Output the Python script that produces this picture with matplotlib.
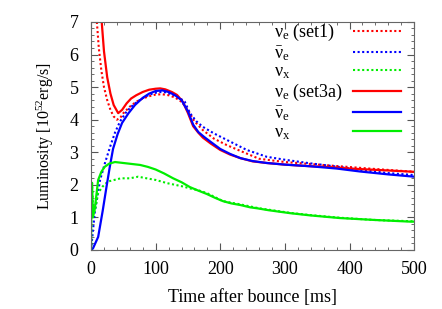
import numpy as np
import matplotlib
matplotlib.use('Agg')
import matplotlib.pyplot as plt
from matplotlib.ticker import MultipleLocator

plt.rcParams['font.family'] = ['Liberation Serif', 'DejaVu Serif']
plt.rcParams['mathtext.fontset'] = 'custom'
plt.rcParams['mathtext.rm'] = 'Liberation Serif'
plt.rcParams['mathtext.it'] = 'Liberation Serif:italic'

# nu_e, set1 (dotted red)
t_e1 = [4, 9, 12, 16, 20, 25, 30, 35, 40, 45, 50, 60, 70, 80, 90, 100, 110,
        120, 130, 140, 150, 160, 173, 190, 210, 230, 260, 300, 365, 430, 500]
L_e1 = [9.5, 7.0, 6.2, 5.5, 5.0, 4.6, 4.3, 4.1, 4.0, 4.05, 4.2, 4.4, 4.55,
        4.65, 4.72, 4.77, 4.78, 4.75, 4.68, 4.55, 4.3, 3.95, 3.68, 3.42,
        3.22, 3.05, 2.8, 2.7, 2.6, 2.5, 2.4]

# anti nu_e, set1 (dotted blue)
t_ae1 = [0, 1, 6, 14, 22, 30, 37, 45, 55, 65, 75, 85, 95, 105, 115, 125, 135,
         145, 153, 163, 173, 190, 210, 241, 272, 300, 339, 380, 416, 460, 500]
L_ae1 = [0, 0.2, 1.2, 2.15, 2.7, 3.2, 3.6, 3.95, 4.25, 4.45, 4.6, 4.72, 4.8,
         4.85, 4.84, 4.78, 4.7, 4.55, 4.2, 3.95, 3.78, 3.58, 3.38, 3.07,
         2.86, 2.77, 2.66, 2.56, 2.46, 2.36, 2.3]

# nu_x, set1 (dotted green)
t_x1 = [0, 0.5, 1.5, 3, 6, 11, 18, 26, 36, 46, 60, 73, 86, 100, 118, 142,
        155, 165, 180, 204, 231, 260, 308, 340, 385, 440, 500]
L_x1 = [0, 1.5, 2.1, 1.3, 1.2, 1.75, 1.95, 2.1, 2.15, 2.2, 2.2, 2.25, 2.2,
        2.15, 2.05, 1.95, 1.88, 1.84, 1.74, 1.5, 1.4, 1.28, 1.14, 1.07,
        0.99, 0.92, 0.88]

# nu_e, set3a (solid red)
t_e3 = [8, 12, 16.5, 20, 25, 30, 35, 42, 48, 55, 62, 70, 80, 90, 100, 107,
        115, 125, 133, 142, 150, 158, 166, 173, 185, 200, 215, 231, 250, 272,
        300, 340, 365, 400, 450, 500]
L_e3 = [11, 9, 7.0, 6.1, 5.3, 4.8, 4.45, 4.2, 4.3, 4.5, 4.65, 4.75, 4.85,
        4.92, 4.95, 4.96, 4.93, 4.85, 4.76, 4.55, 4.2, 3.8, 3.6, 3.45, 3.27,
        3.07, 2.93, 2.82, 2.72, 2.67, 2.62, 2.57, 2.55, 2.5, 2.45, 2.4]

# anti nu_e, set3a (solid blue)
t_ae3 = [0, 3, 11, 18, 24, 29, 34, 41, 48, 58, 68, 80, 90, 100, 110, 120,
         130, 140, 150, 158, 166, 175, 185, 200, 215, 231, 250, 272, 300, 339,
         380, 416, 460, 500]
L_ae3 = [0, 0.05, 0.4, 1.2, 1.95, 2.55, 3.1, 3.55, 3.9, 4.2, 4.45, 4.67, 4.8,
         4.88, 4.9, 4.85, 4.75, 4.6, 4.25, 3.85, 3.62, 3.47, 3.32, 3.1, 2.95,
         2.82, 2.73, 2.67, 2.62, 2.57, 2.5, 2.41, 2.32, 2.25]

# nu_x, set3a (solid green)
t_x3 = [0, 0.5, 1.5, 3, 6, 11, 16, 21, 28, 37, 50, 63, 76, 88, 100, 113, 127,
        140, 153, 165, 179, 192, 204, 217, 231, 246, 257, 275, 308, 340, 385,
        440, 494, 500]
L_x3 = [0, 1.8, 2.05, 1.0, 1.3, 2.15, 2.4, 2.55, 2.65, 2.7, 2.67, 2.64, 2.61,
        2.55, 2.47, 2.35, 2.2, 2.08, 1.93, 1.83, 1.72, 1.6, 1.5, 1.43, 1.38,
        1.31, 1.28, 1.22, 1.13, 1.06, 0.98, 0.92, 0.87, 0.87]

red = '#ff0000'
blue = '#0000ff'
green = '#00ee00'
dot = (0, (1, 1.2))
fs = 13

fig = plt.figure(figsize=(4.42, 3.09), dpi=100)
ax = fig.add_axes([0.206, 0.191, 0.731, 0.738])

ax.plot(t_e1, L_e1, color=red, lw=1.5, ls=dot, label=r'$\mathrm{\nu}_\mathrm{e}$ (set1)')
ax.plot(t_ae1, L_ae1, color=blue, lw=1.5, ls=dot, label=r'$\bar{\mathrm{\nu}}_\mathrm{e}$')
ax.plot(t_x1, L_x1, color=green, lw=1.5, ls=dot, label=r'$\mathrm{\nu}_\mathrm{x}$')
ax.plot(t_e3, L_e3, color=red, lw=1.6, label=r'$\mathrm{\nu}_\mathrm{e}$ (set3a)')
ax.plot(t_ae3, L_ae3, color=blue, lw=1.6, label=r'$\bar{\mathrm{\nu}}_\mathrm{e}$')
ax.plot(t_x3, L_x3, color=green, lw=1.6, label=r'$\mathrm{\nu}_\mathrm{x}$')

ax.set_xlim(0, 500)
ax.set_ylim(0, 7)
ax.xaxis.set_major_locator(MultipleLocator(100))
ax.xaxis.set_minor_locator(MultipleLocator(20))
ax.yaxis.set_major_locator(MultipleLocator(1))
ax.yaxis.set_minor_locator(MultipleLocator(0.2))
ax.tick_params(which='both', direction='in', top=True, right=True,
               labelsize=fs, color='#555555')
ax.tick_params(axis='x', which='major', pad=8)
ax.tick_params(axis='y', which='major', pad=9)
ax.tick_params(which='major', length=5)
ax.tick_params(which='minor', length=2.5)
for s in ax.spines.values():
    s.set_color('#666666')

ax.set_xlabel('Time after bounce [ms]', fontsize=fs, labelpad=8)
ax.set_ylabel(r'Luminosity [10$^{52}$erg/s]', fontsize=11.5, labelpad=10)

leg = ax.legend(loc='upper right', bbox_to_anchor=(0.999, 1.055), frameon=False,
                markerfirst=False, fontsize=fs, handlelength=2.65,
                handletextpad=0.35, labelspacing=0.05, borderpad=0.2)
# left-justify the labels, keep the line samples on the right
for col in leg._legend_handle_box.get_children():
    for row in col.get_children():
        row.mode = 'expand'
        row.width = 127

fig.savefig('out.png', dpi=100)
